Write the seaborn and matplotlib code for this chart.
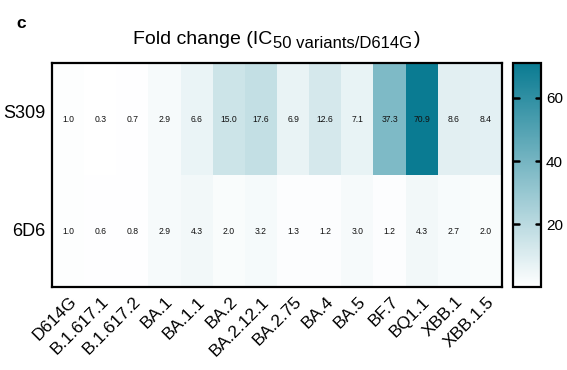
import matplotlib
matplotlib.use("Agg")
import matplotlib.pyplot as plt
from matplotlib.colors import LinearSegmentedColormap
from matplotlib.transforms import ScaledTranslation
import numpy as np
import pandas as pd
import seaborn as sns

variants = ["D614G", "B.1.617.1", "B.1.617.2", "BA.1", "BA.1.1", "BA.2",
            "BA.2.12.1", "BA.2.75", "BA.4", "BA.5", "BF.7", "BQ1.1",
            "XBB.1", "XBB.1.5"]
antibodies = ["S309", "6D6"]
s309_fold = [1.0, 0.3, 0.7, 2.9, 6.6, 15.0, 17.6, 6.9, 12.6, 7.1, 37.3, 70.9, 8.6, 8.4]
d6_fold = [1.0, 0.6, 0.8, 2.9, 4.3, 2.0, 3.2, 1.3, 1.2, 3.0, 1.2, 4.3, 2.7, 2.0]
cbar_ticks = [20, 40, 60]

df = pd.DataFrame([s309_fold, d6_fold], index=antibodies, columns=variants)

sns.set_theme(style="white")
plt.rcParams["font.family"] = ["Liberation Sans", "DejaVu Sans"]
plt.rcParams["xtick.major.size"] = 0
plt.rcParams["ytick.major.size"] = 0
plt.rcParams["ytick.major.pad"] = 3.5

cmap = LinearSegmentedColormap.from_list("teal", ["#ffffff", "#0a7b92"])

fig = plt.figure(figsize=(5.67, 3.70), dpi=100)
ax = fig.add_axes([52 / 567, 1 - 287 / 370, 450 / 567, 224 / 370])
cax = fig.add_axes([513 / 567, 1 - 287 / 370, 28 / 567, 224 / 370])

sns.heatmap(df, ax=ax, cbar_ax=cax, cmap=cmap,
            vmin=min(s309_fold + d6_fold), vmax=max(s309_fold + d6_fold),
            annot=True, fmt=".1f",
            annot_kws={"color": "#111111", "fontsize": 6.2})

for side in ax.spines.values():
    side.set_visible(True)
    side.set_linewidth(1.6)
    side.set_color("black")

ax.tick_params(axis="both", length=0)
ax.tick_params(axis="y", pad=4.5)
ax.tick_params(axis="x", pad=6)
ax.set_yticklabels(antibodies, rotation=0, fontsize=13, color="black")
ax.set_xticklabels(variants, rotation=45, ha="right", va="center",
                   rotation_mode="anchor", fontsize=12.5, color="black")
ax.set_xlabel("")
ax.set_ylabel("")

# nudge tick labels
lbl = ax.get_yticklabels()[0]
lbl.set_transform(lbl.get_transform() + ScaledTranslation(0, 0.06, fig.dpi_scale_trans))
for lbl in ax.get_xticklabels():
    lbl.set_transform(lbl.get_transform() + ScaledTranslation(0.06, -0.04, fig.dpi_scale_trans))

cbar = ax.collections[0].colorbar
cbar.set_ticks(cbar_ticks)
cbar.outline.set_visible(True)
cbar.outline.set_linewidth(1.6)
cbar.outline.set_edgecolor("black")
cax.tick_params(axis="y", labelsize=11, labelcolor="black")

# inward tick marks on both edges of the colour bar
for v in cbar_ticks:
    cax.axhline(v, xmin=0.0, xmax=0.2, color="black", lw=1.8, zorder=4)
    cax.axhline(v, xmin=0.82, xmax=1.0, color="black", lw=1.8, zorder=4)

fig.canvas.draw()
renderer = fig.canvas.get_renderer()

# title with a larger subscript than mathtext allows
x0 = 133 / 567
y_base = 1 - 44 / 370
parts = [("Fold change (IC", 14, 0.0), ("50 variants/D614G", 12, -0.011), (")", 14, 0.0)]
x = x0
for txt, size, dy in parts:
    t = fig.text(x, y_base + dy, txt, ha="left", va="baseline", fontsize=size, color="black")
    bb = t.get_window_extent(renderer=renderer)
    x += bb.width / fig.bbox.width + 0.002

fig.text(0.028, 1 - 23 / 370, "c", ha="left", va="center", fontsize=12.5,
         fontweight="bold", color="black")

fig.savefig("out.png", dpi=100)
